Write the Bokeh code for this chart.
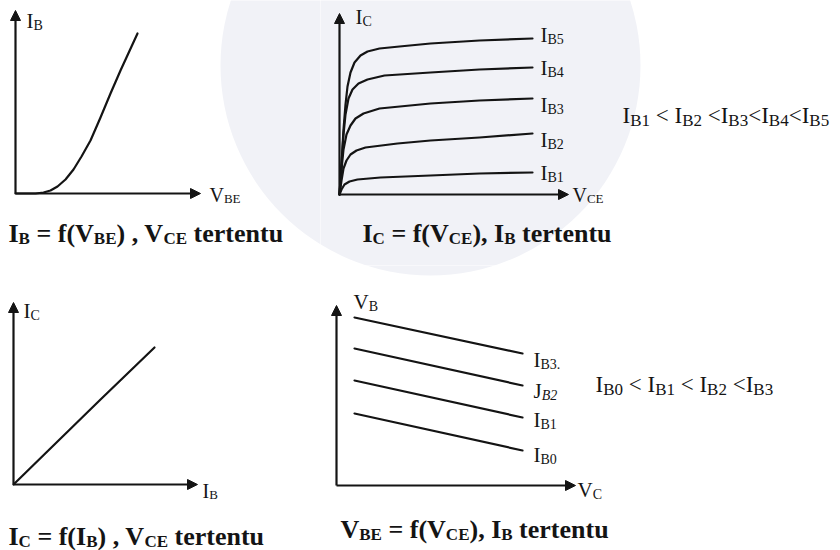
from bokeh.plotting import figure
from bokeh.models import Range1d, Arrow, NormalHead, Label
from bokeh.layouts import column, row
from bokeh.embed import file_html
from bokeh.resources import INLINE

# ---------------- data (schematic units, measured from each origin) ----------------
# Input characteristic  I_B = f(V_BE)
vbe_in = [0, 20, 28, 35, 42, 50, 58, 66, 75, 85, 95, 105, 122]
ib_in = [0, 0, 1, 3, 7, 14, 24, 37, 53, 76, 100, 123, 160]

# Output characteristic  I_C = f(V_CE) for five base currents
vce_b5 = [0, 2, 4, 6, 8, 11, 15, 21, 28, 40, 60, 91, 140, 193]
ic_b5 = [0, 30, 65, 90, 108, 122, 132, 139, 143, 146, 148, 151, 154, 156]
vce_b4 = [0, 2, 4, 6, 9, 13, 19, 28, 45, 91, 140, 193]
ic_b4 = [0, 30, 60, 80, 96, 105, 111, 115, 119, 122, 125, 127]
vce_b3 = [0, 2, 4, 7, 11, 16, 24, 40, 91, 140, 193]
ic_b3 = [0, 25, 45, 60, 69, 76, 81, 86, 91, 94, 96]
vce_b2 = [0, 2, 4, 7, 11, 17, 26, 58, 91, 140, 193]
ic_b2 = [0, 14, 26, 34, 40, 44, 47, 51, 54, 57, 61]
vce_b1 = [0, 2, 5, 10, 18, 41, 91, 140, 193]
ic_b1 = [0, 5, 10, 13, 15, 17, 19, 21, 22]

# Transfer characteristic  I_C = f(I_B)
ib_tr = [0, 86, 141]
ic_tr = [0, 84, 137]

# Feedback characteristic  V_BE = f(V_CE) for four base currents
vce_fb = [18, 186]
vbe_b3 = [168, 132]
vbe_b2 = [137, 100]
vbe_b1 = [105, 68]
vbe_b0 = [72, 35]

INK = "#141414"
FONT = "Liberation Serif"
SEAL = "#f1f2f7"        # pale seal printed behind the upper diagrams

# Advance widths (1/1000 em) for the serif face
W_REG = {' ': 250, '(': 333, ')': 333, ',': 250, '.': 250, '=': 564, '<': 564,
         'B': 667, 'C': 667, 'E': 611, 'I': 333, 'J': 389, 'V': 722,
         'e': 444, 'f': 333, 'n': 500, 'r': 333, 't': 278, 'u': 500}
W_BOLD = {' ': 250, '(': 333, ')': 333, ',': 250, '.': 250, '=': 570, '<': 570,
          'B': 667, 'C': 722, 'E': 667, 'I': 389, 'J': 500, 'V': 722,
          'e': 444, 'f': 333, 'n': 556, 'r': 444, 't': 333, 'u': 556}
W_ITAL = {'B': 611}


def text_width(txt, size, table):
    return sum(table.get(ch, 500) for ch in txt) / 1000.0 * size


class Panel:
    def __init__(self, left, top, width, height, ox, oy):
        self.left, self.top, self.ox, self.oy = left, top, ox, oy
        p = figure(width=width, height=height,
                   x_range=Range1d(-ox, width - ox),
                   y_range=Range1d(oy - height, oy),
                   toolbar_location=None, output_backend="svg",
                   min_border=0, background_fill_color="white",
                   border_fill_color="white")
        p.axis.visible = False
        p.grid.visible = False
        p.outline_line_color = None
        self.p = p

    def pos(self, X, Y):
        return X - self.left - self.ox, self.top + self.oy - Y

    def seal(self, X, Y, r):
        cx, cy = self.pos(X, Y)
        self.p.circle(x=[cx], y=[cy], radius=r, fill_color=SEAL, line_color=None)

    def axes(self, xlen, ylen):
        for xe, ye in ((xlen, 0), (0, ylen)):
            self.p.add_layout(Arrow(
                x_start=0, y_start=0, x_end=xe, y_end=ye,
                line_color=INK, line_width=2.2,
                end=NormalHead(size=10, fill_color=INK, line_color=INK, line_width=1)))

    def rich(self, X, Y, parts, size, sub, bold=False, drop=None):
        """Write a run of normal / subscript pieces with its baseline at page point (X, Y)."""
        x, y = self.pos(X, Y - 0.34 * size)
        drop = size * 0.2 if drop is None else drop
        table = W_BOLD if bold else W_REG
        for txt, kind in parts:
            s = size if kind == "n" else sub
            yy = y if kind == "n" else y - drop
            style = "bold" if bold else "normal"
            tab = table
            if kind == "i":
                style = "bold italic" if bold else "italic"
                tab = W_ITAL
            lead = len(txt) - len(txt.lstrip(" "))
            core = txt.strip(" ")
            trail = len(txt) - lead - len(core)
            x += lead * table[" "] / 1000.0 * s
            if core:
                self.p.add_layout(Label(
                    x=x, y=yy, text=core, text_font=FONT, text_font_size=f"{s}px",
                    text_font_style=style, text_color=INK,
                    text_baseline="alphabetic", text_align="left"))
            x += text_width(core, s, tab) + trail * table[" "] / 1000.0 * s


def curve(p, xs, ys):
    p.line(xs, ys, line_color=INK, line_width=2.2, line_join="round", line_cap="round")


a = Panel(0, 0, 320, 265, 15, 193)
b = Panel(320, 0, 520, 265, 19, 194)
c = Panel(0, 265, 320, 285, 13, 219)
d = Panel(320, 265, 520, 285, 16, 220)
for pn in (a, b, c, d):
    pn.seal(430, 65, 210)

# ---------------- panel 1: input characteristic ----------------
a.axes(185, 183)
curve(a.p, vbe_in, ib_in)
a.rich(26, 28, [("I", "n"), ("B", "s")], 21, 14)
a.rich(209, 201, [("V", "n"), ("BE", "s")], 20, 13)
a.rich(8, 242, [("I", "n"), ("B", "s"), (" = f(V", "n"), ("BE", "s"), (") , V", "n"),
                ("CE", "s"), (" tertentu", "n")], 26, 17, bold=True)

# ---------------- panel 2: output characteristic ----------------
b.axes(229, 181)
for xs, ys in ((vce_b5, ic_b5), (vce_b4, ic_b4), (vce_b3, ic_b3),
               (vce_b2, ic_b2), (vce_b1, ic_b1)):
    curve(b.p, xs, ys)
b.rich(355, 24, [("I", "n"), ("C", "s")], 21, 14)
for name, base in (("B5", 42), ("B4", 75), ("B3", 112), ("B2", 147), ("B1", 180)):
    b.rich(540, base, [("I", "n"), (name, "s")], 21, 14)
b.rich(572, 201, [("V", "n"), ("CE", "s")], 20, 13)
b.rich(622, 123, [("I", "n"), ("B1", "s"), (" < I", "n"), ("B2", "s"), (" <I", "n"),
                  ("B3", "s"), ("<I", "n"), ("B4", "s"), ("<I", "n"), ("B5", "s")], 23, 17)
b.rich(362, 242, [("I", "n"), ("C", "s"), (" = f(V", "n"), ("CE", "s"), ("), I", "n"),
                  ("B", "s"), (" tertentu", "n")], 26, 17, bold=True)

# ---------------- panel 3: transfer characteristic ----------------
c.axes(184, 182)
curve(c.p, ib_tr, ic_tr)
c.rich(23, 318, [("I", "n"), ("C", "s")], 21, 14)
c.rich(202, 497, [("I", "n"), ("B", "s")], 20, 13)
c.rich(8, 545, [("I", "n"), ("C", "s"), (" = f(I", "n"), ("B", "s"), (") , V", "n"),
                ("CE", "s"), (" tertentu", "n")], 26, 17, bold=True)

# ---------------- panel 4: feedback characteristic ----------------
d.axes(239, 180)
for ys in (vbe_b3, vbe_b2, vbe_b1, vbe_b0):
    curve(d.p, vce_fb, ys)
d.rich(353, 309, [("V", "n"), ("B", "s")], 21, 14)
d.rich(577, 497, [("V", "n"), ("C", "s")], 21, 14)
d.rich(533, 367, [("I", "n"), ("B3.", "s")], 21, 14)
d.rich(533, 398, [("J", "n"), ("B2", "i")], 21, 14)
d.rich(533, 427, [("I", "n"), ("B1", "s")], 21, 14)
d.rich(533, 462, [("I", "n"), ("B0", "s")], 21, 14)
d.rich(595, 392, [("I", "n"), ("B0", "s"), (" < I", "n"), ("B1", "s"), (" < I", "n"),
                  ("B2", "s"), (" <I", "n"), ("B3", "s")], 23, 17)
d.rich(340, 538, [("V", "n"), ("BE", "s"), (" = f(V", "n"), ("CE", "s"), ("), I", "n"),
                  ("B", "s"), (" tertentu", "n")], 26, 17, bold=True)

layout = column(row(a.p, b.p, spacing=0), row(c.p, d.p, spacing=0), spacing=0)
open("out.html", "w").write(file_html(layout, INLINE))
